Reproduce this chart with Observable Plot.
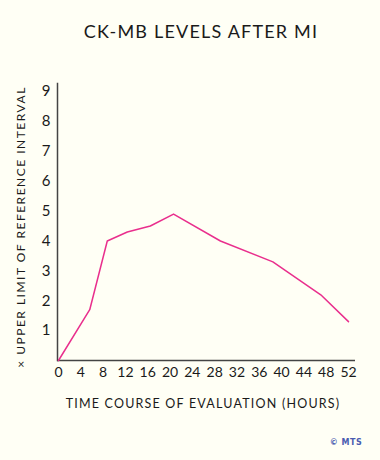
<!DOCTYPE html>
<html><head><meta charset="utf-8">
<script src="https://cdn.jsdelivr.net/npm/d3@7"></script>
<script src="https://cdn.jsdelivr.net/npm/@observablehq/plot@0.6"></script>
<style>
html,body{margin:0;padding:0;background:#fffff5;}
#wrap{position:relative;width:380px;height:460px;overflow:hidden;background:#fffff5;font-family:Lato,"Open Sans",sans-serif;color:#1a1a1a;}
#wrap svg{position:absolute;left:0;top:0;}
.t{position:absolute;white-space:nowrap;line-height:1;transform:translate(-50%,-50%);}
#title{left:201px;top:31px;font-size:18px;letter-spacing:1.2px;}
#ylab{left:21px;top:227px;font-size:12px;letter-spacing:1.5px;transform:translate(-50%,-50%) rotate(-90deg);}
#xlab{left:203px;top:404px;font-size:12.5px;letter-spacing:1.2px;}
#credit{left:346px;top:443px;font-size:8px;font-weight:bold;color:#4a5cb0;font-family:"DejaVu Sans",sans-serif;letter-spacing:0.5px;}
</style>
</head><body>
<div id="wrap">
  <div id="plot"></div>
  <div class="t" id="title">CK-MB LEVELS AFTER MI</div>
  <div class="t" id="ylab">× UPPER LIMIT OF REFERENCE INTERVAL</div>
  <div class="t" id="xlab">TIME COURSE OF EVALUATION (HOURS)</div>
  <div class="t" id="credit">© MTS</div>
</div>
<script>
// Time course (hours), against the axis labels
const hours = [0, 8, 11.4, 14.7, 18.6, 22.6, 30.7, 39.2, 47, 52];
// CK-MB level, multiples of the upper limit of the reference interval
const ckmb = [0, 1.7, 4.0, 4.3, 4.5, 4.9, 4.0, 3.3, 2.2, 1.3];
// Tick labels
const xTicks = [0, 4, 8, 12, 16, 20, 24, 28, 32, 36, 40, 44, 48, 52];
const yTicks = [1, 2, 3, 4, 5, 6, 7, 8, 9];

const data = hours.map((h, i) => ({hour: h, level: ckmb[i]}));

// The reference's hour axis is drawn unevenly (tight at the start):
// a piecewise warp, in hour units, reproduces that spacing.
const warp = d3.scaleLinear()
  .domain(xTicks)
  .range([0, 2.7, 5.6, 9.3, 13.8, 17.9, 22.1, 26.0, 30.5, 35.0, 39.3, 43.8, 48.1, 52]);

const chart = Plot.plot({
  width: 380,
  height: 460,
  marginTop: 83,
  marginBottom: 100,
  marginLeft: 57,
  marginRight: 25,
  style: {background: "transparent", fontFamily: "Lato, 'Open Sans', sans-serif", color: "#1a1a1a"},
  x: {domain: [0, 52], range: [58, 348], transform: warp},
  y: {domain: [0, 9.27]},
  marks: [
    Plot.axisX({ticks: xTicks, tickSize: 0, tickPadding: 7, fontSize: 14, label: null}),
    Plot.axisY({ticks: yTicks, tickSize: 0, tickPadding: 7, fontSize: 15, label: null}),
    Plot.ruleY([0], {stroke: "#444", strokeWidth: 1.5}),
    Plot.frame({anchor: "left", stroke: "#444", strokeWidth: 1.5}),
    Plot.line(data, {x: "hour", y: "level", stroke: "#e92f8d", strokeWidth: 1.5})
  ]
});
document.getElementById("plot").appendChild(chart);
</script>
</body></html>
